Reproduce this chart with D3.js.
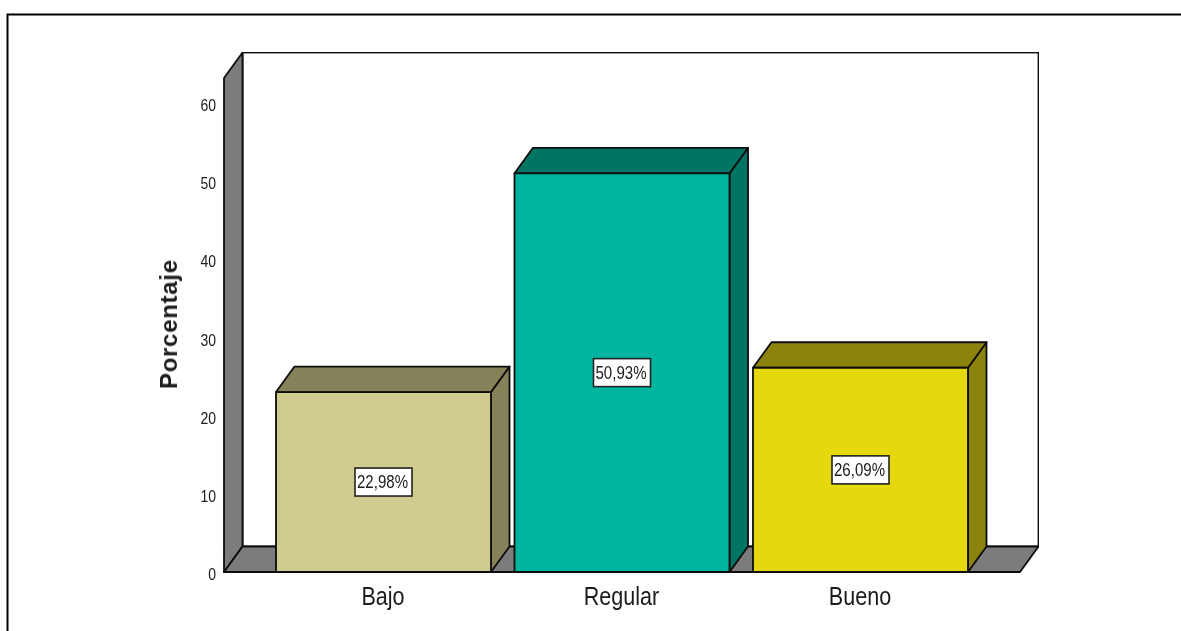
<!DOCTYPE html>
<html><head><meta charset="utf-8">
<script src="https://cdn.jsdelivr.net/npm/d3@7"></script>
<style>html,body{margin:0;padding:0;background:#fff;overflow:hidden}svg{display:block}text{font-family:"Liberation Sans",Arial,sans-serif;fill:#1a1a1a}</style>
</head><body><svg id="c" width="1181" height="631"><defs><filter id="soft" x="0" y="0" width="100%" height="100%"><feGaussianBlur stdDeviation="0.4"/></filter></defs></svg>
<script>
const categories = ["Bajo","Regular","Bueno"];
const percentages = [22.98,50.93,26.09];
const valueLabels = ["22,98%","50,93%","26,09%"];
const frontColors = ["#D0CB8F","#00B5A0","#E5D80F"];
const darkColors = ["#858158","#007463","#8C8308"];
const yTicks = [0,10,20,30,40,50,60];
const axisTitle = "Porcentaje";

const root = d3.select("#c");
root.append("path").attr("d","M7.5,631V14.5H1181").attr("fill","none").attr("stroke","#000").attr("stroke-width",2);
const svg = root.append("g").attr("filter","url(#soft)");
const depth = {x:18.5,y:-25.5};
const wallGrey = "#7B7B7B", ink = "#0c0c0c";
const y = d3.scaleLinear().domain([0,63.1]).range([572,78]);
const x = d3.scaleBand().domain(categories).range([276,968]).paddingInner(0.0985).paddingOuter(0);
const plot = {left:224,right:1020,y0:y(0),y1:y(63.1)};
const poly = pts => pts.map(p=>p.join(",")).join(" ");

svg.append("rect").attr("x",plot.left+depth.x).attr("y",plot.y1+depth.y)
  .attr("width",plot.right-plot.left).attr("height",plot.y0-plot.y1)
  .attr("fill","#fff").attr("stroke",ink).attr("stroke-width",1.8);
svg.append("polygon").attr("points",poly([[plot.left,plot.y0],[plot.left,plot.y1],[plot.left+depth.x,plot.y1+depth.y],[plot.left+depth.x,plot.y0+depth.y]]))
  .attr("fill",wallGrey).attr("stroke",ink).attr("stroke-width",1.8).attr("stroke-linejoin","round");
svg.append("polygon").attr("points",poly([[plot.left,plot.y0],[plot.right,plot.y0],[plot.right+depth.x,plot.y0+depth.y],[plot.left+depth.x,plot.y0+depth.y]]))
  .attr("fill",wallGrey).attr("stroke",ink).attr("stroke-width",1.8).attr("stroke-linejoin","round");

const bars = svg.selectAll("g.bar").data(categories).join("g").attr("class","bar");
bars.each(function(c,i){
  const g = d3.select(this), l = x(c), r = l + x.bandwidth(), t = y(percentages[i]), b = y(0);
  const st = s => s.attr("stroke",ink).attr("stroke-width",1.8).attr("stroke-linejoin","round");
  st(g.append("polygon").attr("points",poly([[r,b],[r,t],[r+depth.x,t+depth.y],[r+depth.x,b+depth.y]])).attr("fill",darkColors[i]));
  st(g.append("polygon").attr("points",poly([[l,t],[r,t],[r+depth.x,t+depth.y],[l+depth.x,t+depth.y]])).attr("fill",darkColors[i]));
  st(g.append("rect").attr("x",l).attr("y",t).attr("width",r-l).attr("height",b-t).attr("fill",frontColors[i]));
  const cx = (l+r)/2, cy = (t+b)/2;
  g.append("rect").attr("x",cx-28.5).attr("y",cy-14).attr("width",57).attr("height",28)
    .attr("fill","#fff").attr("stroke","#222").attr("stroke-width",1.6);
  g.append("text").attr("transform",`translate(${cx-1},${cy+6}) scale(1,1.2)`).attr("text-anchor","middle")
    .attr("font-size",15).attr("textLength",51).attr("lengthAdjust","spacingAndGlyphs").text(valueLabels[i]);
});

const yAxis = svg.append("g").attr("transform","translate(224,2.5)")
  .call(d3.axisLeft(y).tickValues(yTicks).tickSize(0).tickFormat(d3.format("d")));
yAxis.select(".domain").remove();
yAxis.selectAll("text").attr("x",0).attr("font-size",14).attr("font-family",'"Liberation Sans",Arial,sans-serif').attr("fill","#333")
  .attr("transform","translate(-8,0) scale(1,1.22)");

const xAxis = svg.append("g").attr("transform","translate(0,572)")
  .call(d3.axisBottom(x).tickSize(0).tickPadding(0));
xAxis.select(".domain").remove();
xAxis.selectAll("text").attr("font-family",'"Liberation Sans",Arial,sans-serif').attr("fill","#333")
  .attr("font-size",21.6).attr("dy",0).attr("y",0)
  .attr("transform","translate(-0.5,33) scale(1,1.16)");

svg.append("text").attr("transform","translate(177,324.5) rotate(-90)").attr("text-anchor","middle")
  .attr("font-size",24).attr("font-weight","bold").attr("fill","#0c0c0c").attr("textLength",129).attr("lengthAdjust","spacing").text(axisTitle);
</script></body></html>
